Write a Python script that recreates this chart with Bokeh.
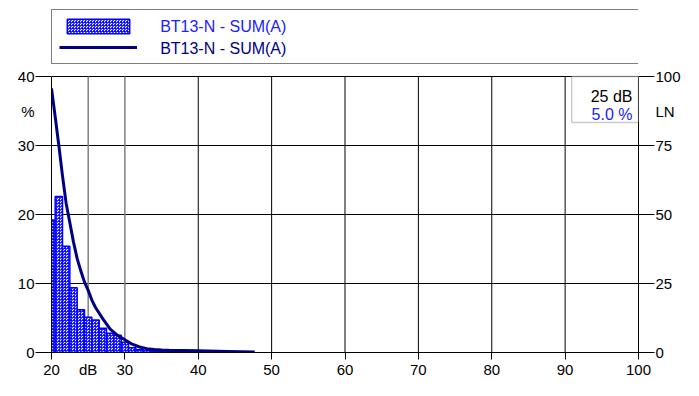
from bokeh.plotting import figure
from bokeh.models import (Range1d, LinearAxis, FixedTicker, Legend, LegendItem,
                          Label, BoxAnnotation, ColumnDataSource)
from bokeh.embed import file_html
from bokeh.resources import INLINE

# ---- data ----
levels = list(range(20, 48))
pct = [19.2, 22.6, 15.4, 9.4, 6.2, 5.1, 4.7, 3.5, 2.8, 2.5, 1.5, 0.7, 0.4, 0.3,
       0.2, 0.15, 0.12, 0.1, 0.1, 0.08, 0.08, 0.06, 0.06, 0.05, 0.05, 0.04, 0.04, 0.03]
ln_level = [20, 20.5, 21, 21.5, 22, 22.5, 23, 23.5, 24, 24.5, 25, 25.5, 26, 27, 28, 29,
            30, 31, 32, 33, 34, 35, 36, 38, 40, 44, 47.7]
ln_value = [95.7, 85.5, 75, 64, 54, 47, 40, 34, 29.5, 25.5, 22.5, 19, 16.3, 12.2, 8.5, 6.2,
            4.6, 3.0, 2.0, 1.4, 1.1, 0.9, 0.8, 0.7, 0.6, 0.4, 0.2]
x_ticks = [20, 30, 40, 50, 60, 70, 80, 90, 100]
y_ticks = [0, 10, 20, 30, 40]
ln_ticks = [0, 25, 50, 75, 100]
grid_black_x = [40, 50, 60, 70, 80, 90]
grid_gray_x = [25, 30]
x_unit, x_unit_at = "dB", 25
y_unit, y_unit_at = "%", 35
ln_unit, ln_unit_at = "LN", 87.5
series_name = "BT13-N - SUM(A)"
cursor_level = "25 dB"
cursor_value = "5.0 %"

FONT = "Liberation Sans"

# layout (pixels)
W, H = 683, 380
B_LEFT, B_RIGHT, B_BOTTOM = 51, 43, 28
DATA_TOP = 76                      # pixel row of the 40 % / 100 line
frame_w = W - B_LEFT - B_RIGHT
frame_h = H - B_BOTTOM             # frame spans from the canvas top (legend lives inside it)
data_h = frame_h - DATA_TOP
x_min, x_max = x_ticks[0], x_ticks[-1]
y_max, ln_max = y_ticks[-1], ln_ticks[-1]

def px_to_x(px):
    return x_min + (px - B_LEFT) * (x_max - x_min) / frame_w

def px_to_y(py):
    return (frame_h - py) * y_max / data_h

p = figure(width=W, height=H, output_backend="svg", toolbar_location=None,
           x_range=Range1d(x_min, x_max),
           y_range=Range1d(0, y_max * frame_h / data_h),
           min_border_left=B_LEFT, min_border_right=B_RIGHT, min_border_top=0,
           min_border_bottom=B_BOTTOM)
p.outline_line_color = None
p.background_fill_color = "white"
p.border_fill_color = "white"
p.extra_y_ranges = {"ln": Range1d(0, ln_max * frame_h / data_h)}

# grid: horizontal lines via grid, vertical lines limited to the data area
p.xgrid.visible = False
p.ygrid.ticker = FixedTicker(ticks=[10, 20, 30, 40])
p.ygrid.grid_line_color = "black"
p.ygrid.grid_line_width = 1
p.segment(x0=grid_black_x, y0=[0] * len(grid_black_x), x1=grid_black_x,
          y1=[y_max] * len(grid_black_x), line_color="black", line_width=1)
p.segment(x0=grid_gray_x, y0=[0] * len(grid_gray_x), x1=grid_gray_x,
          y1=[y_max] * len(grid_gray_x), line_color="#808080", line_width=1.5)

# axes: labelled positions use invisible major ticks, visible tick marks are minor ticks
def style_axis(ax, ticks, unit, unit_at, tick_out):
    ax.ticker = FixedTicker(ticks=sorted(ticks + [unit_at]), minor_ticks=ticks)
    ax.major_label_overrides = {unit_at: unit}
    ax.major_label_text_font = FONT
    ax.major_label_text_font_size = "15px"
    ax.major_label_text_color = "black"
    ax.major_tick_line_alpha = 0
    ax.major_tick_out = tick_out
    ax.major_tick_in = 0
    ax.minor_tick_line_color = "black"
    ax.minor_tick_out = tick_out
    ax.minor_tick_in = 0
    ax.axis_line_color = "black"
    ax.major_label_standoff = 1
    ax.bounds = (ticks[0], ticks[-1])

style_axis(p.xaxis[0], x_ticks, x_unit, x_unit_at, 7)
style_axis(p.yaxis[0], y_ticks, y_unit, y_unit_at, 16)
rax = LinearAxis(y_range_name="ln")
style_axis(rax, ln_ticks, ln_unit, ln_unit_at, 16)
p.add_layout(rax, "right")

src = ColumnDataSource(dict(x=levels, top=pct))
bars = p.vbar(x="x", top="top", width=1, bottom=0, source=src,
              fill_color="white", line_color="#0000ff", line_width=1.5,
              hatch_pattern="criss_cross", hatch_color="#0000ff", hatch_scale=3, hatch_weight=0.8)
line = p.line(ln_level, ln_value, y_range_name="ln", line_color="#000080", line_width=3)

# legend box with both glyphs; the two series names are written as labels
LEG_TOP, LEG_PAD, ROW_H, ROW_GAP, GLYPH_W, STANDOFF = 11, 7, 18, 3, 78, 27
box_h = 2 * LEG_PAD + 2 * ROW_H + ROW_GAP
legend = Legend(items=[LegendItem(label=" ", renderers=[bars]),
                       LegendItem(label=" ", renderers=[line])],
                location=(0, frame_h - LEG_TOP - box_h), orientation="vertical",
                border_line_color="black", border_line_width=1, background_fill_alpha=0,
                padding=LEG_PAD, spacing=ROW_GAP, glyph_width=GLYPH_W, glyph_height=ROW_H,
                label_height=ROW_H, label_standoff=STANDOFF, margin=0,
                label_width=frame_w - 2 * LEG_PAD - GLYPH_W - STANDOFF,
                label_text_font=FONT, label_text_font_size="10px")
p.add_layout(legend, "center")

row1_c = LEG_TOP + LEG_PAD + ROW_H / 2
row2_c = row1_c + ROW_H + ROW_GAP
label_x = px_to_x(160)
p.add_layout(Label(x=label_x, y=px_to_y(row1_c - 1), text=series_name, text_align="left",
                   text_baseline="middle", text_font=FONT, text_font_size="16px",
                   text_color="#2020ff", level="overlay"))
p.add_layout(Label(x=label_x, y=px_to_y(row2_c), text=series_name, text_align="left",
                   text_baseline="middle", text_font=FONT, text_font_size="16px",
                   text_color="#000080", level="overlay"))

# cursor read-out box
p.add_layout(BoxAnnotation(left=px_to_x(573), right=x_max, top=y_max, bottom=px_to_y(122),
                           fill_color="white", fill_alpha=1,
                           line_color="#555555", line_width=1.5))
p.add_layout(Label(x=px_to_x(634), y=px_to_y(96), text=cursor_level, text_align="right",
                   text_baseline="alphabetic", text_font=FONT,
                   text_font_size="16px", text_color="black", level="overlay"))
p.add_layout(Label(x=px_to_x(634), y=px_to_y(114), text=cursor_value, text_align="right",
                   text_baseline="alphabetic", text_font=FONT,
                   text_font_size="16px", text_color="#2020ff", level="overlay"))

open("out.html", "w").write(file_html(p, INLINE))
